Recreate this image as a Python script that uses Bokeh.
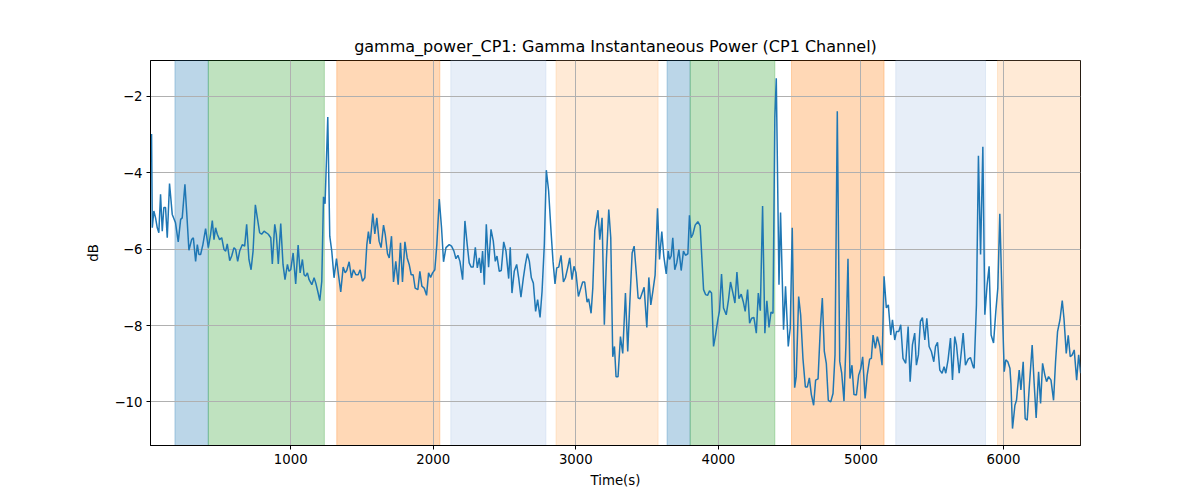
from bokeh.plotting import figure
from bokeh.models import Range1d, FixedTicker, BoxAnnotation, CustomJSTickFormatter
from bokeh.embed import file_html
from bokeh.resources import INLINE

TIME = [24, 29, 40, 52, 64, 75, 87, 99, 110, 122, 134, 150, 169, 192, 211, 228, 239, 258, 274, 286,
        305, 317, 333, 345, 356, 368, 384, 403, 422, 438, 450, 462, 473, 485, 501, 516, 532, 544, 555, 572,
        586, 602, 614, 628, 642, 661, 677, 691, 707, 722, 736, 752, 766, 782, 796, 813, 829, 843, 860, 871,
        888, 899, 913, 930, 946, 960, 977, 988, 1000, 1017, 1035, 1052, 1066, 1082, 1094, 1105, 1117, 1129, 1148, 1164,
        1176, 1190, 1204, 1218, 1230, 1241, 1260, 1274, 1288, 1304, 1321, 1335, 1351, 1368, 1382, 1393, 1410, 1426, 1440, 1457,
        1473, 1487, 1503, 1520, 1534, 1545, 1557, 1576, 1590, 1604, 1620, 1634, 1651, 1663, 1679, 1691, 1707, 1721, 1737, 1754,
        1770, 1784, 1801, 1817, 1831, 1845, 1859, 1873, 1892, 1906, 1920, 1936, 1953, 1967, 1981, 1995, 2011, 2025, 2042, 2058,
        2072, 2089, 2112, 2128, 2145, 2159, 2173, 2187, 2206, 2222, 2238, 2252, 2266, 2280, 2295, 2309, 2323, 2334, 2346, 2358,
        2372, 2388, 2405, 2421, 2435, 2447, 2463, 2477, 2494, 2510, 2529, 2540, 2552, 2568, 2585, 2599, 2615, 2632, 2646, 2660,
        2674, 2688, 2702, 2718, 2732, 2749, 2763, 2779, 2793, 2809, 2826, 2840, 2854, 2866, 2880, 2896, 2913, 2927, 2943, 2957,
        2973, 2987, 3001, 3018, 3032, 3048, 3062, 3079, 3090, 3107, 3119, 3133, 3155, 3168, 3184, 3200, 3215, 3231, 3245, 3259,
        3271, 3282, 3296, 3313, 3329, 3348, 3364, 3378, 3395, 3409, 3423, 3437, 3451, 3465, 3479, 3498, 3512, 3526, 3540, 3556,
        3573, 3587, 3603, 3617, 3634, 3648, 3657, 3669, 3680, 3694, 3708, 3723, 3739, 3755, 3769, 3786, 3797, 3809, 3821, 3837,
        3856, 3872, 3884, 3896, 3910, 3924, 3938, 3952, 3966, 3980, 3996, 4008, 4022, 4036, 4055, 4071, 4085, 4102, 4116, 4130,
        4144, 4160, 4174, 4188, 4205, 4219, 4233, 4249, 4266, 4280, 4294, 4310, 4326, 4340, 4355, 4369, 4383, 4396, 4406, 4425,
        4436, 4457, 4471, 4490, 4504, 4518, 4535, 4546, 4563, 4577, 4593, 4610, 4624, 4638, 4652, 4668, 4682, 4699, 4715, 4729,
        4743, 4757, 4771, 4788, 4804, 4818, 4834, 4851, 4865, 4881, 4895, 4909, 4923, 4937, 4951, 4968, 4984, 4998, 5012, 5029,
        5043, 5061, 5073, 5085, 5101, 5115, 5132, 5148, 5162, 5178, 5192, 5209, 5221, 5237, 5249, 5265, 5279, 5295, 5314, 5331,
        5345, 5361, 5377, 5389, 5403, 5417, 5431, 5448, 5462, 5478, 5494, 5511, 5523, 5537, 5553, 5569, 5583, 5595, 5611, 5628,
        5642, 5658, 5670, 5689, 5717, 5733, 5752, 5768, 5787, 5794, 5810, 5824, 5839, 5855, 5869, 5885, 5899, 5913, 5930, 5946,
        5960, 5974, 5991, 6005, 6016, 6030, 6045, 6052, 6063, 6080, 6091, 6110, 6122, 6138, 6152, 6166, 6180, 6201, 6215, 6229,
        6246, 6260, 6274, 6290, 6302, 6316, 6333, 6351, 6365, 6379, 6396, 6412, 6424, 6440, 6454, 6468, 6482, 6496, 6513, 6527,
        6541, 6555]

POWER = [-2.98, -5.44, -5.00, -5.18, -5.44, -5.57, -4.56, -5.53, -4.91, -4.91, -5.70, -4.28, -5.09, -5.31, -5.81, -5.22, -5.18, -4.30, -5.26, -6.03,
         -5.75, -5.70, -6.32, -5.88, -6.14, -6.14, -5.88, -5.46, -5.96, -5.61, -5.25, -5.75, -5.44, -5.61, -5.75, -5.70, -6.01, -6.05, -5.86, -6.30,
         -6.18, -5.96, -6.01, -6.32, -6.05, -5.88, -5.92, -5.35, -6.27, -6.54, -6.05, -4.84, -5.18, -5.57, -5.61, -5.53, -5.57, -5.61, -5.70, -6.39,
         -5.35, -5.61, -6.39, -5.33, -6.40, -6.80, -6.40, -6.58, -6.54, -6.10, -6.91, -5.89, -6.62, -6.27, -6.67, -6.71, -6.62, -6.80, -6.93, -6.75,
         -6.89, -7.11, -7.35, -6.84, -4.63, -4.81, -2.54, -5.66, -6.05, -6.75, -6.25, -6.67, -7.12, -6.47, -6.62, -6.56, -6.33, -6.75, -6.54, -6.67,
         -6.67, -6.54, -6.84, -6.75, -5.88, -5.54, -5.86, -5.07, -5.60, -5.18, -5.79, -5.96, -5.37, -5.61, -6.12, -6.23, -5.66, -6.86, -6.32, -6.93,
         -5.83, -6.86, -5.81, -6.23, -6.40, -6.67, -6.67, -7.02, -7.06, -6.58, -6.97, -7.02, -7.21, -6.62, -6.74, -6.62, -6.54, -5.88, -4.69, -5.44,
         -6.33, -5.96, -5.88, -5.92, -6.05, -6.25, -6.16, -6.32, -6.80, -5.26, -5.88, -6.36, -6.47, -6.47, -5.95, -6.49, -6.23, -6.62, -6.05, -6.93,
         -5.35, -6.47, -5.48, -5.79, -6.32, -6.18, -6.58, -6.56, -5.81, -6.05, -6.77, -5.95, -7.15, -6.58, -6.40, -6.75, -7.26, -6.75, -6.40, -6.12,
         -6.32, -6.75, -6.89, -7.63, -7.32, -7.79, -7.11, -5.88, -3.93, -4.47, -5.53, -6.32, -6.91, -6.49, -6.47, -6.16, -6.86, -6.75, -6.49, -6.23,
         -6.80, -6.45, -6.62, -7.24, -7.06, -6.86, -6.86, -7.39, -7.30, -7.68, -7.02, -5.51, -4.98, -5.75, -5.18, -7.98, -6.23, -4.96, -5.70, -8.82,
         -8.55, -9.34, -9.34, -8.29, -8.73, -7.15, -8.68, -7.46, -6.10, -5.92, -6.58, -7.28, -7.30, -7.15, -7.00, -8.05, -6.74, -7.46, -7.11, -6.68,
         -4.93, -6.27, -5.54, -6.18, -6.65, -6.05, -6.27, -6.18, -5.70, -6.54, -6.36, -6.01, -6.56, -6.05, -6.16, -6.12, -5.11, -5.70, -5.61, -5.37,
         -5.28, -5.39, -6.23, -7.06, -7.19, -7.21, -7.09, -7.15, -8.55, -8.25, -7.85, -7.61, -6.65, -7.54, -7.72, -7.32, -6.86, -7.15, -7.41, -6.60,
         -7.30, -7.18, -7.37, -7.63, -7.06, -7.94, -7.81, -7.79, -8.20, -7.15, -7.61, -4.87, -8.20, -7.35, -8.05, -7.65, -7.68, -2.54, -1.52, -6.93,
         -5.04, -8.11, -6.97, -8.55, -8.07, -5.44, -9.63, -9.34, -7.24, -7.72, -8.86, -9.61, -9.61, -9.37, -9.81, -10.09, -9.43, -9.40, -8.07, -7.28,
         -8.68, -8.99, -9.96, -10.00, -9.78, -8.77, -2.39, -8.94, -9.25, -9.98, -8.46, -6.25, -9.39, -9.04, -9.81, -9.82, -9.30, -9.14, -8.82, -9.91,
         -9.32, -8.88, -8.86, -8.25, -8.60, -8.29, -8.55, -9.04, -6.71, -7.54, -7.46, -8.25, -7.85, -8.38, -8.16, -8.16, -7.98, -8.86, -8.99, -8.03,
         -9.47, -8.51, -8.20, -9.04, -8.77, -7.89, -7.79, -8.38, -7.81, -8.55, -8.68, -8.95, -8.55, -8.44, -9.17, -9.25, -9.08, -9.25, -8.90, -8.33,
         -9.43, -8.29, -8.51, -9.25, -8.20, -9.04, -8.88, -8.84, -9.08, -9.12, -7.46, -3.55, -6.14, -3.32, -7.72, -6.93, -6.45, -8.25, -8.46, -7.63,
         -7.02, -5.07, -7.46, -9.21, -8.90, -8.95, -9.12, -9.52, -10.70, -10.09, -9.96, -9.17, -9.69, -8.95, -10.44, -10.48, -9.65, -8.51, -9.52, -10.42,
         -9.21, -10.04, -8.99, -9.30, -9.47, -9.34, -9.43, -9.96, -8.95, -8.16, -7.85, -7.35, -7.81, -8.73, -8.26, -8.82, -8.77, -8.64, -9.43, -8.77,
         -9.25, -8.95]

SPAN_START = [188, 422, 1323, 2123, 2861, 3640, 3802, 4513, 5244, 5958]
SPAN_END = [422, 1236, 2046, 2790, 3577, 3802, 4396, 5162, 5874, 6700]
SPAN_COLOR = ["#1f77b4", "#2ca02c", "#ff7f0e", "#aec7e8", "#ffbb78",
              "#1f77b4", "#2ca02c", "#ff7f0e", "#aec7e8", "#ffbb78"]

X_TICKS = [1000, 2000, 3000, 4000, 5000, 6000]
Y_TICKS = [-10, -8, -6, -4, -2]

FONT = "DejaVu Sans"

p = figure(width=1200, height=500, output_backend="svg", toolbar_location=None,
           x_range=Range1d(16.5, 6540), y_range=Range1d(-11.144, -1.057),
           title="gamma_power_CP1: Gamma Instantaneous Power (CP1 Channel)")
p.min_border_left = 150
p.min_border_right = 120
p.min_border_top = 60
p.min_border_bottom = 55
p.background_fill_color = "white"
p.border_fill_color = "white"
p.outline_line_color = "black"
p.outline_line_width = 1

p.title.align = "center"
p.title.text_font = FONT
p.title.text_font_size = "16px"
p.title.text_font_style = "normal"
p.title.text_color = "black"

for s, e, c in zip(SPAN_START, SPAN_END, SPAN_COLOR):
    p.add_layout(BoxAnnotation(left=s, right=e, fill_color=c, fill_alpha=0.3,
                               line_color=c, line_alpha=0.3, line_width=1, level="image"))

p.line(TIME, POWER, line_color="#1f77b4", line_width=1.5)

p.xaxis.ticker = FixedTicker(ticks=X_TICKS)
p.yaxis.ticker = FixedTicker(ticks=Y_TICKS)
p.yaxis.formatter = CustomJSTickFormatter(code="return tick < 0 ? '\u2212' + Math.abs(tick) : String(tick);")

for ax in (p.xaxis[0], p.yaxis[0]):
    ax.axis_line_color = "black"
    ax.major_tick_line_color = "black"
    ax.major_tick_out = 4
    ax.major_tick_in = 0
    ax.minor_tick_line_color = None
    ax.major_label_text_font = FONT
    ax.major_label_text_font_size = "13.3px"
    ax.major_label_text_color = "black"
    ax.axis_label_text_font = FONT
    ax.axis_label_text_font_size = "13.3px"
    ax.axis_label_text_font_style = "normal"
    ax.axis_label_text_color = "black"
    ax.major_label_standoff = 4

p.xaxis.axis_label = "Time(s)"
p.yaxis.axis_label = "dB"
p.xaxis.axis_label_standoff = 6
p.yaxis.axis_label_standoff = 10

p.xgrid.grid_line_color = "#b0b0b0"
p.ygrid.grid_line_color = "#b0b0b0"
p.xgrid.grid_line_width = 1
p.ygrid.grid_line_width = 1

open("out.html", "w").write(file_html(p, INLINE))
